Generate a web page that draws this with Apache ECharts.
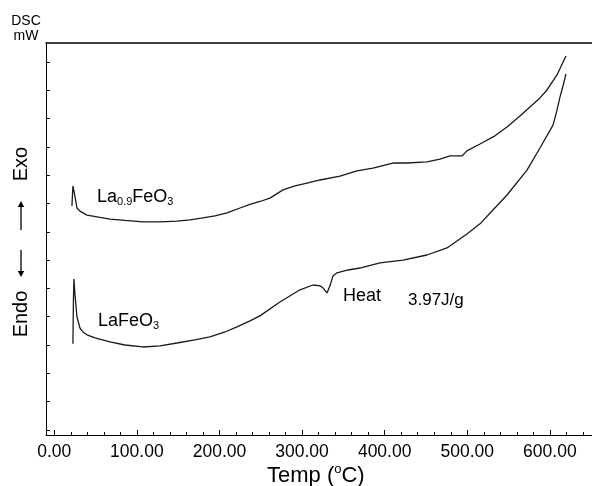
<!DOCTYPE html>
<html><head><meta charset="utf-8">
<script src="https://cdn.jsdelivr.net/npm/echarts@6/dist/echarts.min.js"></script>
<style>html,body{margin:0;padding:0;background:#fff}#c{width:592px;height:486px}</style>
</head><body><div id="c"></div>
<script>
// Temperature (°C) and DSC signal (arbitrary mW units, one unit per y tick)
const tempLa09 = [21.4,22.6,24.5,27.5,31.1,39.6,55.3,67.4,85.6,107.4,128.0,148.5,164.3,180.0,194.6,209.1,224.8,236.9,249.0,261.1,276.9,291.4,305.9,321.7,345.9,366.5,385.8,410.0,427.0,451.2,466.9,479.1,493.6,499.6,515.4,533.5,548.1,563.8,575.9,588.0,596.5,608.6,619.5];
const dscLa09  = [7.91,8.62,8.34,7.84,7.73,7.59,7.51,7.45,7.40,7.35,7.35,7.38,7.42,7.49,7.56,7.67,7.84,7.97,8.07,8.19,8.48,8.62,8.72,8.83,8.97,9.15,9.25,9.43,9.43,9.47,9.57,9.68,9.68,9.86,10.10,10.39,10.70,11.09,11.41,11.73,12.01,12.54,13.21];
const tempLaFe = [22.6,23.2,23.8,25.1,27.5,31.1,34.7,39.6,49.3,67.4,85.6,107.4,128.0,148.5,170.3,188.5,206.7,221.2,236.9,249.0,273.2,297.5,313.2,321.7,325.3,330.2,333.8,337.4,342.3,355.6,370.1,394.3,422.2,451.2,475.4,499.6,515.4,531.1,548.1,572.3,588.0,603.8,608.6,612.2,615.9,619.5];
const dscLaFe  = [3.04,4.59,5.33,4.77,3.99,3.60,3.46,3.36,3.25,3.11,3.00,2.93,2.97,3.07,3.18,3.29,3.46,3.64,3.85,4.03,4.52,4.95,5.12,5.09,5.02,4.84,5.09,5.44,5.55,5.65,5.72,5.90,6.00,6.18,6.43,6.92,7.28,7.77,8.30,9.18,9.96,10.77,11.30,11.76,12.15,12.58];
const xTickLabels = [0,100,200,300,400,500,600];
const xMinorTicks = [0,20,40,60,80,100,120,140,160,180,200,220,240,260,280,300,320,340,360,380,400,420,440,460,480,500,520,540,560,580,600,620,640];
const yTicks = [0,1,2,3,4,5,6,7,8,9,10,11,12,13];

const FONT = '"Liberation Sans", Arial, sans-serif';
const ctx = document.createElement('canvas').getContext('2d');
function tw(t, size){ ctx.font = size + 'px ' + FONT; return ctx.measureText(t).width; }
function pieces(x, baseline, parts){
  const out = []; let cx = x;
  parts.forEach(p => {
    const [t, size, dy] = p;
    out.push({type:'text', x: cx, y: baseline + (dy||0) - 0.34*size, silent:true,
      style:{text:t, font: size + 'px ' + FONT, fill:'#000', align:'left', verticalAlign:'middle', textAlign:'left', textVerticalAlign:'middle'}});
    cx += tw(t, size);
  });
  return out;
}
function vtext(t, x, y, size){
  return {type:'text', x:x, y:y, rotation:Math.PI/2, silent:true,
    style:{x:0, y:0, text:t, font:size+'px '+FONT, fill:'#000', align:'center', verticalAlign:'middle', textAlign:'center', textVerticalAlign:'middle'}};
}
function varrow(x, yFrom, yTo){
  const dir = yTo > yFrom ? 1 : -1;
  return [
    {type:'line', silent:true, shape:{x1:x, y1:yFrom, x2:x, y2:yTo - dir*4}, style:{stroke:'#000', lineWidth:1.3}},
    {type:'polygon', silent:true, shape:{points:[[x-3.2, yTo - dir*6],[x+3.2, yTo - dir*6],[x, yTo]]}, style:{fill:'#000'}}
  ];
}

const chart = echarts.init(document.getElementById('c'), null, {renderer:'canvas'});
const axisCol = '#000';
const graphics = [].concat(
  pieces(97, 203, [['La',18,0],['0.9',11,3],['FeO',18,0],['3',11,3]]),
  pieces(98, 327, [['LaFeO',18,0],['3',11,3]]),
  pieces(343, 302, [['Heat',18,0]]),
  pieces(408, 306, [['3.97J/g',17,0]]),
  pieces(267, 483, [['Temp (',22,0],['o',13,-9],['C)',22,0]]),
  [
    {type:'text', x:26, y:21, silent:true, style:{text:'DSC', font:'14px '+FONT, fill:'#000', align:'center', verticalAlign:'middle', textAlign:'center', textVerticalAlign:'middle'}},
    {type:'text', x:26, y:36, silent:true, style:{text:'mW', font:'14px '+FONT, fill:'#000', align:'center', verticalAlign:'middle', textAlign:'center', textVerticalAlign:'middle'}},
    vtext('Endo', 21, 314, 20),
    vtext('Exo', 21, 164, 20)
  ],
  varrow(21, 250, 277),
  varrow(21, 230, 201)
);

chart.setOption({
  animation:false,
  backgroundColor:'#fff',
  grid:{left:46, right:0, top:43, bottom:51, containLabel:false},
  xAxis:[
    {type:'value', position:'bottom', min:-10, max:651,
     axisLine:{show:true, onZero:false, lineStyle:{color:axisCol, width:1}},
     axisTick:{show:true, inside:true, length:5, customValues:xTickLabels, lineStyle:{color:axisCol}},
     axisLabel:{show:true, customValues:xTickLabels, formatter:v=>v.toFixed(2), color:'#000', fontSize:17.5, fontFamily:FONT, margin:8},
     splitLine:{show:false}},
    {type:'value', position:'bottom', min:-10, max:651,
     axisLine:{show:false, onZero:false},
     axisTick:{show:true, inside:true, length:3, customValues:xMinorTicks, lineStyle:{color:axisCol}},
     axisLabel:{show:false}, splitLine:{show:false}},
    {type:'value', position:'top', min:-10, max:651,
     axisLine:{show:true, onZero:false, lineStyle:{color:axisCol, width:1.5}},
     axisTick:{show:false}, axisLabel:{show:false}, splitLine:{show:false}}
  ],
  yAxis:[
    {type:'value', min:-0.18, max:13.67,
     axisLine:{show:true, onZero:false, lineStyle:{color:axisCol, width:1}},
     axisTick:{show:true, inside:true, length:4, customValues:yTicks, lineStyle:{color:axisCol}},
     axisLabel:{show:false}, splitLine:{show:false}}
  ],
  series:[
    {name:'La0.9FeO3', type:'line', xAxisIndex:0, yAxisIndex:0, showSymbol:false, symbol:'none', smooth:false,
     data: tempLa09.map((t,i)=>[t, dscLa09[i]]), lineStyle:{color:'#1a1a1a', width:1.3}},
    {name:'LaFeO3', type:'line', xAxisIndex:0, yAxisIndex:0, showSymbol:false, symbol:'none', smooth:false,
     data: tempLaFe.map((t,i)=>[t, dscLaFe[i]]), lineStyle:{color:'#1a1a1a', width:1.3}}
  ],
  graphic: graphics
});
</script>
</body></html>
